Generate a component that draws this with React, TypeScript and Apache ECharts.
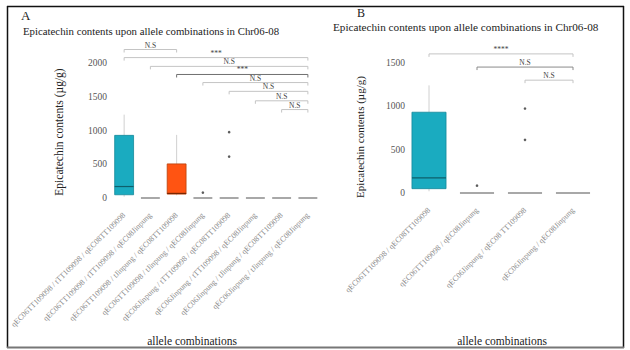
import React, { useEffect, useRef } from 'react';
import * as echarts from 'echarts';

// ---------- data ----------
const categoriesA = [
  'qEC06TT109098 / tTT109098 / qEC08TT109098',
  'qEC06TT109098 / tTT109098 / qEC08Jinpung',
  'qEC06TT109098 / tJinpung / qEC08TT109098',
  'qEC06TT109098 / tJinpung / qEC08Jinpung',
  'qEC06Jinpung / tTT109098 / qEC08TT109098',
  'qEC06Jinpung / tTT109098 / qEC08Jinpung',
  'qEC06Jinpung / tJinpung / qEC08TT109098',
  'qEC06Jinpung / tJinpung / qEC08Jinpung',
];
const categoriesB = [
  'qEC06TT109098 / qEC08TT109098',
  'qEC06TT109098 / qEC08Jinpung',
  'qEC06Jinpung / qEC08 TT109098',
  'qEC06Jinpung / qEC08Jinpung',
];

// box statistics per category: [min, Q1, median, Q3, max]
const boxStatsA = [
  [20, 48, 170, 928, 1235],
  [0, 0, 0, 0, 0],
  [40, 58, 68, 505, 935],
  [0, 0, 0, 0, 0],
  [0, 0, 0, 0, 0],
  [0, 0, 0, 0, 0],
  [0, 0, 0, 0, 0],
  [0, 0, 0, 0, 0],
];
const boxStatsB = [
  [20, 50, 175, 932, 1242],
  [0, 0, 0, 0, 0],
  [0, 0, 0, 0, 0],
  [0, 0, 0, 0, 0],
];
// outliers: [category index, value]
const outliersA = [[3, 80], [4, 975], [4, 613]];
const outliersB = [[1, 85], [2, 975], [2, 613]];

const yTicksA = [0, 500, 1000, 1500, 2000];
const yTicksB = [0, 500, 1000, 1500];

// significance brackets
const sigFromA = [0, 0, 1, 2, 3, 4, 5, 6];
const sigToA = [2, 7, 7, 7, 7, 7, 7, 7];
const sigLevelA = [2200, 2080, 1950, 1830, 1710, 1580, 1440, 1310];
const sigLabelA = ['N.S', '***', 'N.S', '***', 'N.S', 'N.S', 'N.S', 'N.S'];

const sigFromB = [0, 1, 2];
const sigToB = [3, 3, 3];
const sigLevelB = [1605, 1453, 1302];
const sigLabelB = ['****', 'N.S', 'N.S'];

// ---------- styles ----------
const SERIF = 'Liberation Serif, Times New Roman, DejaVu Serif, serif';
const boxColoursA: Record<number, { fill: string; stroke: string; median: string }> = {
  0: { fill: '#1AABC0', stroke: '#15899A', median: '#0E5F6B' },
  2: { fill: '#FF5412', stroke: '#B8420E', median: '#7A2600' },
};
const boxColoursB: Record<number, { fill: string; stroke: string; median: string }> = {
  0: { fill: '#1AABC0', stroke: '#15899A', median: '#0E5F6B' },
};
const bracketStrokeA = ['#C4C4C4', '#C4C4C4', '#C4C4C4', '#707070', '#C4C4C4', '#C4C4C4', '#C4C4C4', '#C4C4C4'];
const bracketStrokeB = ['#C4C4C4', '#8A8A8A', '#C4C4C4'];

function boxSeries(stats: number[][], colours: Record<number, any>, xi: number, ratio: number) {
  return {
    type: 'custom',
    xAxisIndex: xi,
    yAxisIndex: xi,
    clip: false,
    encode: { x: 0, y: [1, 2, 3, 4, 5] },
    data: stats.map((s, i) => [i, ...s]),
    renderItem: (params: any, api: any) => {
      const idx = api.value(0);
      const mn = api.value(1), q1 = api.value(2), md = api.value(3), q3 = api.value(4), mx = api.value(5);
      const bw = api.size([1, 0])[0] * ratio;
      const pMin = api.coord([idx, mn]);
      const pQ1 = api.coord([idx, q1]);
      const pMd = api.coord([idx, md]);
      const pQ3 = api.coord([idx, q3]);
      const pMax = api.coord([idx, mx]);
      const cx = pQ1[0];
      const col = colours[params.dataIndex];
      if (!col || q3 - q1 === 0) {
        return {
          type: 'line',
          shape: { x1: cx - bw / 2, y1: pQ1[1], x2: cx + bw / 2, y2: pQ1[1] },
          style: { stroke: '#A8A8A8', lineWidth: 2 },
        };
      }
      return {
        type: 'group',
        children: [
          { type: 'line', shape: { x1: cx, y1: pMax[1], x2: cx, y2: pQ3[1] }, style: { stroke: '#D0D0D0', lineWidth: 1 } },
          { type: 'line', shape: { x1: cx, y1: pQ1[1], x2: cx, y2: pMin[1] }, style: { stroke: '#D0D0D0', lineWidth: 1 } },
          {
            type: 'rect',
            shape: { x: cx - bw / 2, y: pQ3[1], width: bw, height: pQ1[1] - pQ3[1] },
            style: { fill: col.fill, stroke: col.stroke, lineWidth: 0.8 },
          },
          {
            type: 'line',
            shape: { x1: cx - bw / 2, y1: pMd[1], x2: cx + bw / 2, y2: pMd[1] },
            style: { stroke: col.median, lineWidth: 1.2 },
          },
        ],
      };
    },
  };
}

function bracketSeries(from: number[], to: number[], level: number[], labels: string[], strokes: string[], xi: number) {
  return {
    type: 'custom',
    xAxisIndex: xi,
    yAxisIndex: xi,
    clip: false,
    encode: { x: [0, 1], y: 2 },
    data: from.map((f, i) => [f, to[i], level[i]]),
    renderItem: (params: any, api: any) => {
      const p1 = api.coord([api.value(0), api.value(2)]);
      const p2 = api.coord([api.value(1), api.value(2)]);
      const i = params.dataIndex;
      return {
        type: 'group',
        children: [
          {
            type: 'polyline',
            shape: { points: [[p1[0], p1[1] + 3], [p1[0], p1[1]], [p2[0], p2[1]], [p2[0], p2[1] + 3]] },
            style: { stroke: strokes[i], lineWidth: 1, fill: 'none' },
          },
          {
            type: 'text',
            x: (p1[0] + p2[0]) / 2,
            y: p1[1] - 0.5,
            style: {
              text: labels[i],
              align: 'center',
              verticalAlign: 'bottom',
              fontSize: 7.5,
              fontFamily: SERIF,
              fill: '#444',
            },
          },
        ],
      };
    },
  };
}

function scatterSeries(points: number[][], xi: number) {
  return {
    type: 'scatter',
    xAxisIndex: xi,
    yAxisIndex: xi,
    symbolSize: 2.6,
    itemStyle: { color: '#333' },
    data: points,
  };
}

export default function App() {
  const ref = useRef<HTMLDivElement>(null);
  useEffect(() => {
    if (!ref.current) return;
    const chart = echarts.init(ref.current, null, { renderer: 'svg' });
    const yLabel = (ticks: number[], margin: number) => ({
      fontSize: 9.5,
      fontFamily: SERIF,
      color: '#555',
      margin,
      formatter: (v: number) => (ticks.indexOf(v) >= 0 ? String(v) : ''),
    });
    const xLabel = (margin: number) => ({
      rotate: 45,
      interval: 0,
      fontSize: 7.9,
      fontFamily: SERIF,
      color: '#8A8A8A',
      margin,
    });
    const txt = (text: string, x: number, y: number, size: number, extra: any = {}) => ({
      type: 'text',
      x,
      y,
      style: { text, fontSize: size, fontFamily: SERIF, fill: '#222', verticalAlign: 'middle', ...extra.style },
      ...extra.el,
    });
    chart.setOption({
      animation: false,
      backgroundColor: '#fff',
      textStyle: { fontFamily: SERIF },
      grid: [
        { left: 111, right: 309, top: 42.75, bottom: 152 },
        { left: 405, right: 33, top: 45.67, bottom: 157 },
      ],
      xAxis: [
        {
          type: 'category',
          gridIndex: 0,
          data: categoriesA,
          axisLine: { show: false },
          axisTick: { show: false },
          axisLabel: xLabel(16),
        },
        {
          type: 'category',
          gridIndex: 1,
          data: categoriesB,
          axisLine: { show: false },
          axisTick: { show: false },
          axisLabel: xLabel(16),
        },
      ],
      yAxis: [
        {
          type: 'value',
          gridIndex: 0,
          min: 0,
          max: 2300,
          interval: 500,
          axisLine: { show: false },
          axisTick: { show: false },
          splitLine: { show: false },
          axisLabel: yLabel(yTicksA, 4),
        },
        {
          type: 'value',
          gridIndex: 1,
          min: 0,
          max: 1700,
          interval: 500,
          axisLine: { show: false },
          axisTick: { show: false },
          splitLine: { show: false },
          axisLabel: yLabel(yTicksB, 0),
        },
      ],
      series: [
        boxSeries(boxStatsA, boxColoursA, 0, 0.72),
        scatterSeries(outliersA, 0),
        bracketSeries(sigFromA, sigToA, sigLevelA, sigLabelA, bracketStrokeA, 0),
        boxSeries(boxStatsB, boxColoursB, 1, 0.71),
        scatterSeries(outliersB, 1),
        bracketSeries(sigFromB, sigToB, sigLevelB, sigLabelB, bracketStrokeB, 1),
      ],
      graphic: [
        { type: 'line', shape: { x1: 7.5, y1: 6, x2: 7.5, y2: 348 }, style: { stroke: '#111', lineWidth: 1.5 } },
        { type: 'line', shape: { x1: 7, y1: 6.5, x2: 624, y2: 6.5 }, style: { stroke: '#111', lineWidth: 1.5 } },
        { type: 'line', shape: { x1: 623.5, y1: 6, x2: 623.5, y2: 348 }, style: { stroke: '#111', lineWidth: 1.5 } },
        { type: 'line', shape: { x1: 7, y1: 347.5, x2: 624, y2: 347.5 }, style: { stroke: '#777', lineWidth: 2 } },
        txt('A', 21, 15, 13),
        txt('Epicatechin contents upon allele combinations in Chr06-08', 23, 31, 10.8),
        txt('B', 357, 12.5, 12),
        txt('Epicatechin contents upon allele combinations in Chr06-08', 333, 26.5, 11.2),
        txt('Epicatechin contents (µg/g)', 59, 132, 11.5, { style: { align: 'center' }, el: { rotation: Math.PI / 2 } }),
        txt('Epicatechin contents (µg/g)', 360, 137, 11, { style: { align: 'center' }, el: { rotation: Math.PI / 2 } }),
        txt('allele combinations', 192, 341, 11.5, { style: { align: 'center' } }),
        txt('allele combinations', 502, 341, 11.5, { style: { align: 'center' } }),
      ],
    });
    return () => chart.dispose();
  }, []);
  return (
    <div
      ref={ref}
      style={{ position: 'absolute', left: 0, top: 0, width: 630, height: 350, background: '#fff' }}
    />
  );
}
